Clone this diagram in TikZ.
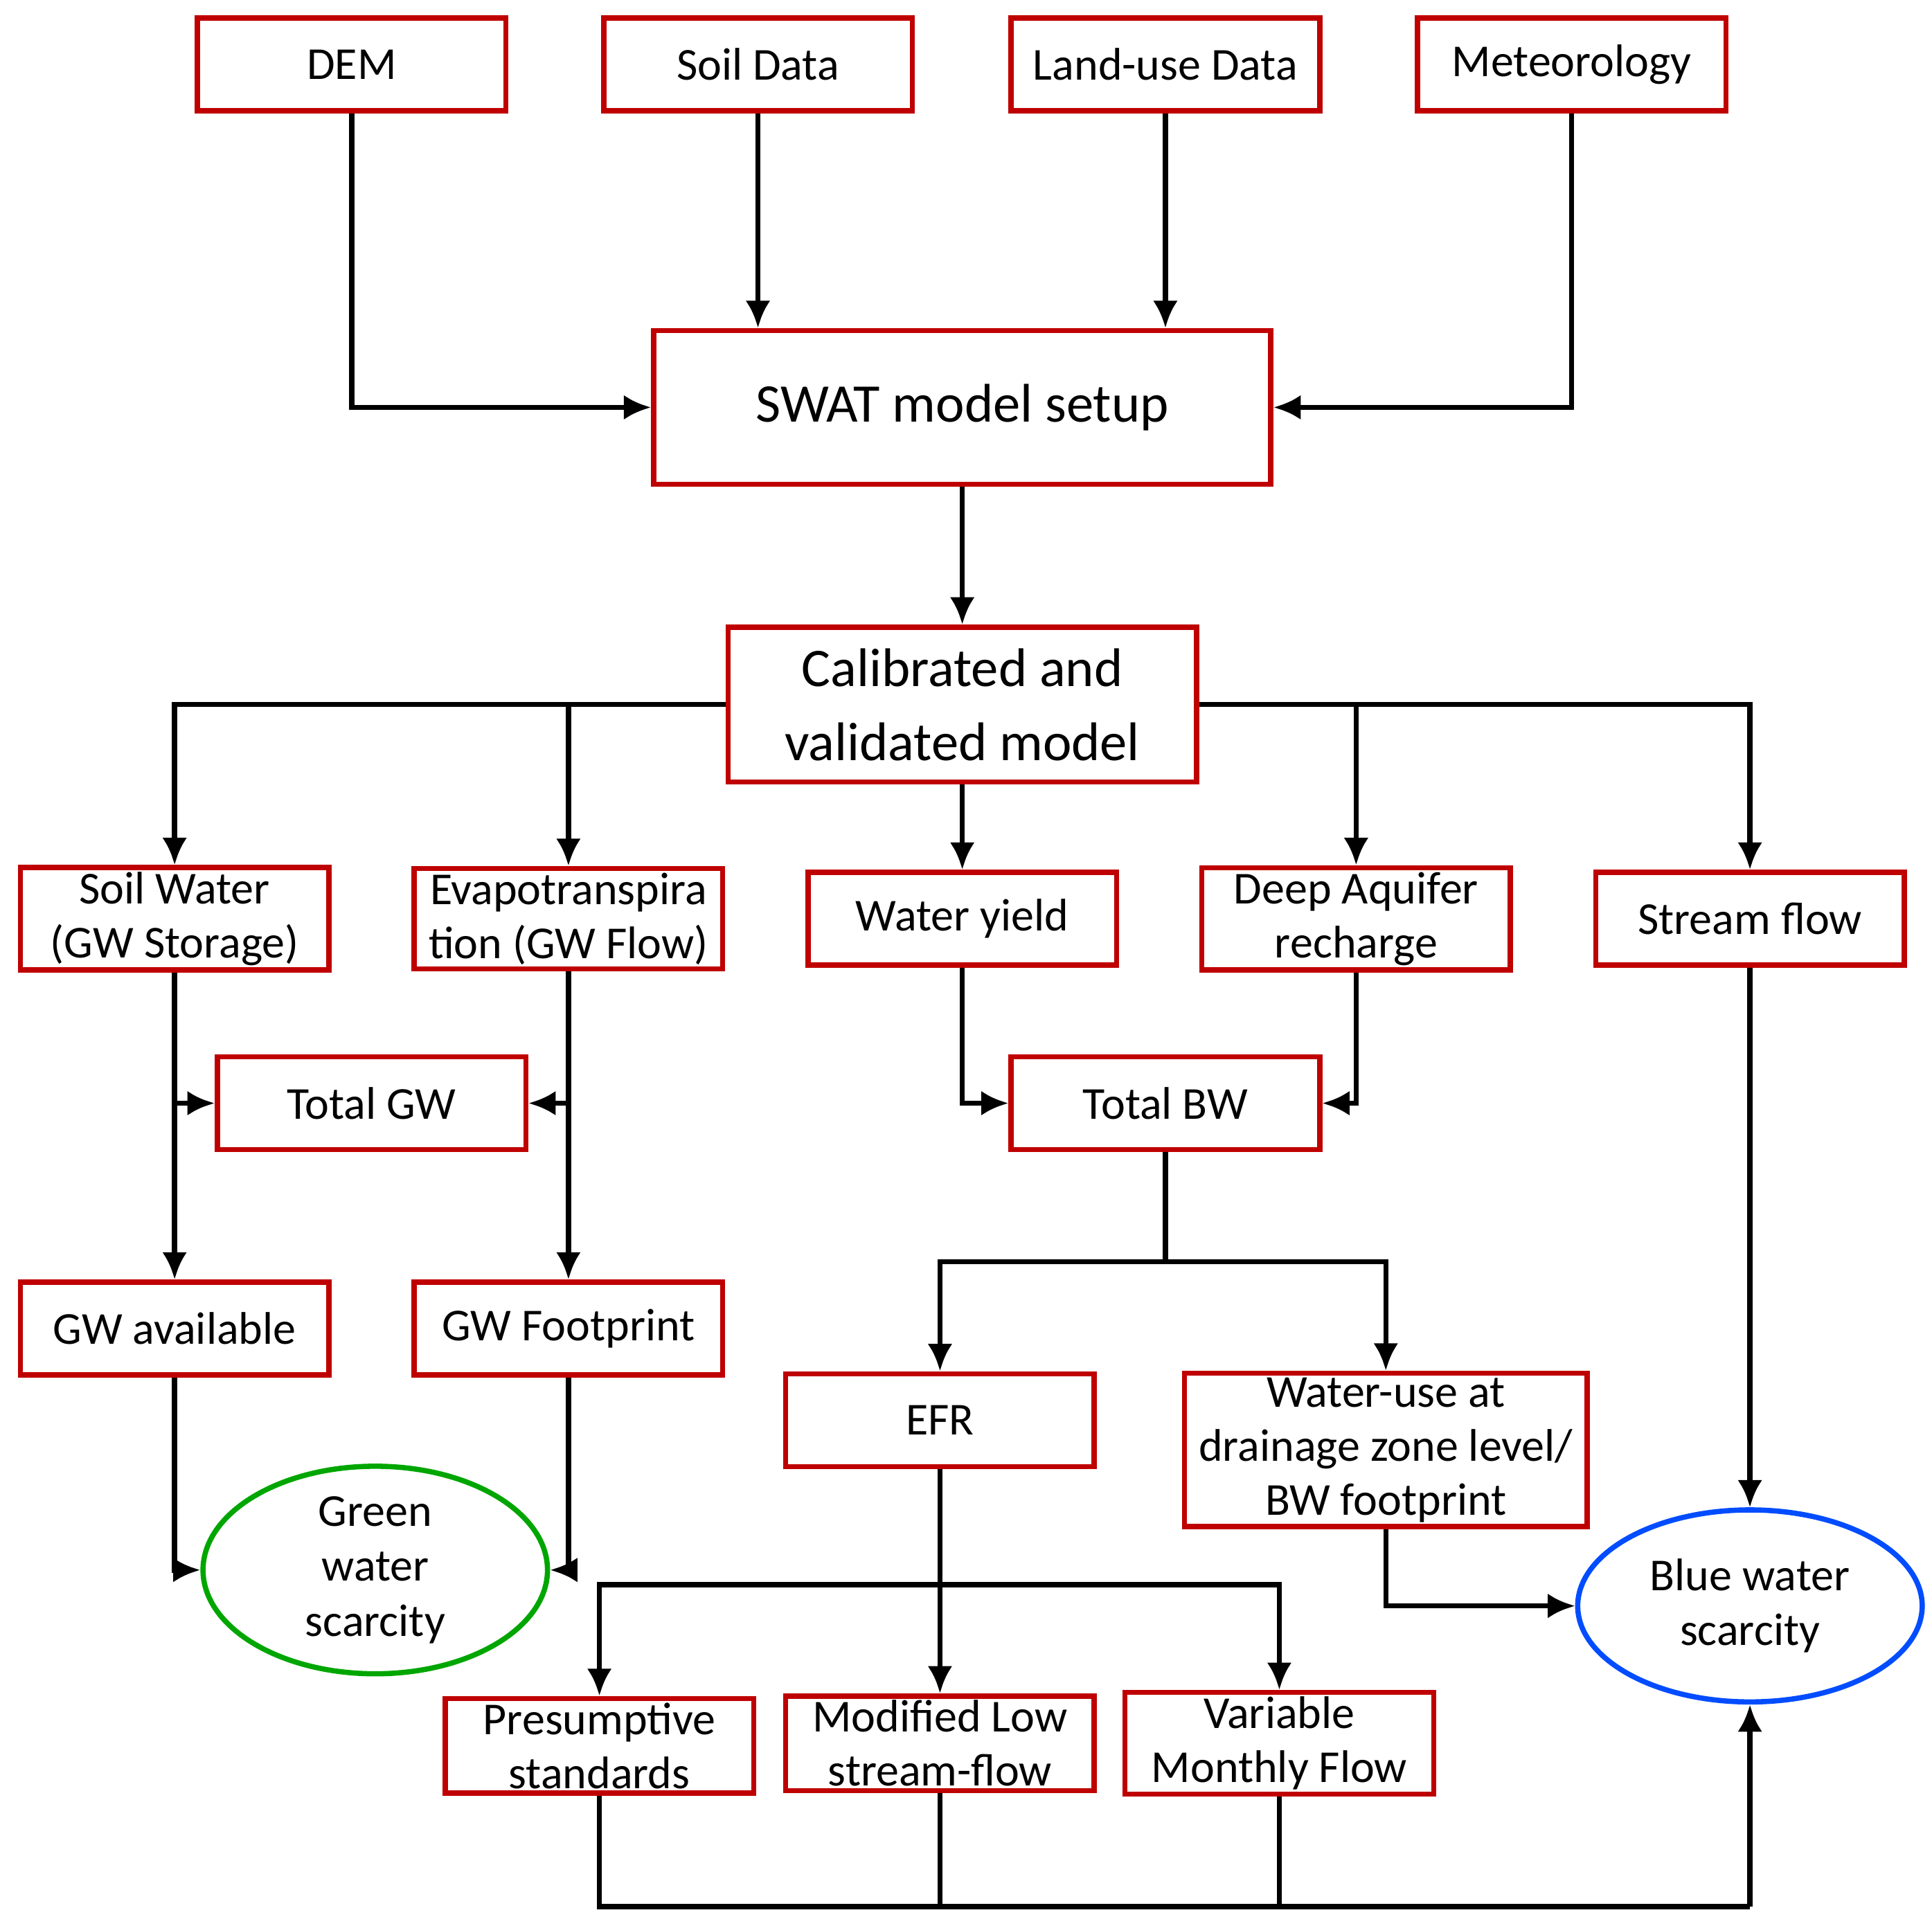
\documentclass[tikz,border=0pt]{standalone}
\usepackage{fontspec}
\setmainfont{Carlito}
\usetikzlibrary{arrows.meta,shapes.geometric}
\begin{document}
\begin{tikzpicture}[x=0.01cm,y=-0.01cm,>={Latex[length=2.2mm,width=2mm]},line width=1.2pt,
  box/.style={draw=red!75!black,rectangle,minimum width=2.49cm,minimum height=0.75cm,inner sep=1pt,align=center,font=\fontsize{10.5}{12.4}\selectfont},
  oval/.style={ellipse,minimum width=2.78cm,minimum height=1.55cm,align=center,inner sep=0pt,font=\fontsize{10.5}{12.6}\selectfont},
  flow/.style={draw,->}]
  \useasboundingbox (0,0) rectangle (1560,1548);
  % inputs
  \node[box] (dem) at (284,52) {DEM};
  \node[box] (soil) at (612,52) {Soil Data};
  \node[box] (land) at (941,52) {Land-use Data};
  \node[box] (met) at (1269,52) {Meteorology};
  \node[box,minimum width=4.98cm,minimum height=1.24cm,font=\fontsize{12.5}{15}\selectfont] (swat) at (777,329) {SWAT model setup};
  \node[box,minimum width=3.78cm,minimum height=1.25cm,font=\fontsize{12.5}{17}\selectfont] (cal) at (777,569) {Calibrated and\\validated model};
  % outputs
  \node[box] (sw) at (141,742) {Soil Water\\(GW Storage)};
  \node[box] (et) at (459,742) {Evapotranspira\\tion (GW Flow)};
  \node[box] (wy) at (777,742) {Water yield};
  \node[box] (da) at (1095,742) {Deep Aquifer\\recharge};
  \node[box] (sf) at (1413,742) {Stream flow};
  \node[box] (tgw) at (300,891) {Total GW};
  \node[box] (tbw) at (941,891) {Total BW};
  \node[box] (gwa) at (141,1073) {GW available};
  \node[box] (gwf) at (459,1073) {GW Footprint};
  \node[box] (efr) at (759,1147) {EFR};
  \node[box,minimum width=3.25cm,minimum height=1.22cm] (wu) at (1119,1171) {Water-use at\\drainage zone level/\\BW footprint};
  \node[box] (ps) at (484,1410) {Presumptive\\standards};
  \node[box] (ml) at (759,1408) {Modified Low\\stream-flow};
  \node[box] (vm) at (1033,1408) {Variable\\Monthly Flow};
  \node[oval,draw=green!65!black] (green) at (303,1268) {Green\\water\\scarcity};
  \node[oval,draw=blue!70!cyan] (blue) at (1413,1297) {Blue water\\scarcity};
  \coordinate (bot) at (1413,1540);
  % connectors
  \draw[flow] (dem) |- (swat);
  \draw[flow] (met) |- (swat);
  \draw[flow] (soil) -- (soil|-swat.north);
  \draw[flow] (land) -- (land|-swat.north);
  \draw[flow] (swat) -- (cal);
  \draw[flow] (cal.west) -| (sw);
  \draw[flow] (et|-cal) -- (et);
  \draw[flow] (cal.east) -| (sf);
  \draw[flow] (da|-cal) -- (da);
  \draw[flow] (cal) -- (wy);
  \draw[flow] (sw) -- (gwa);
  \draw[flow] (sw|-tgw) -- (tgw);
  \draw[flow] (et) -- (gwf);
  \draw[flow] (et|-tgw) -- (tgw);
  \draw[flow] (wy) |- (tbw);
  \draw[flow] (da) |- (tbw);
  \draw[flow] (tbw) -- (941,1019) -| (efr);
  \draw[flow] (941,1019) -| (wu);
  \draw[flow] (gwa) |- (green);
  \draw[flow] (gwf) |- (green);
  \draw[flow] (sf) -- (blue);
  \draw[flow] (wu) |- (blue);
  \draw[flow] (efr) -- (ml);
  \draw[flow] (759,1280) -| (ps);
  \draw[flow] (759,1280) -| (vm);
  \draw (ps) -- (ps|-bot) -- (bot);
  \draw (ml) -- (ml|-bot);
  \draw (vm) -- (vm|-bot);
  \draw[flow] (bot) -- (blue);
\end{tikzpicture}
\end{document}
